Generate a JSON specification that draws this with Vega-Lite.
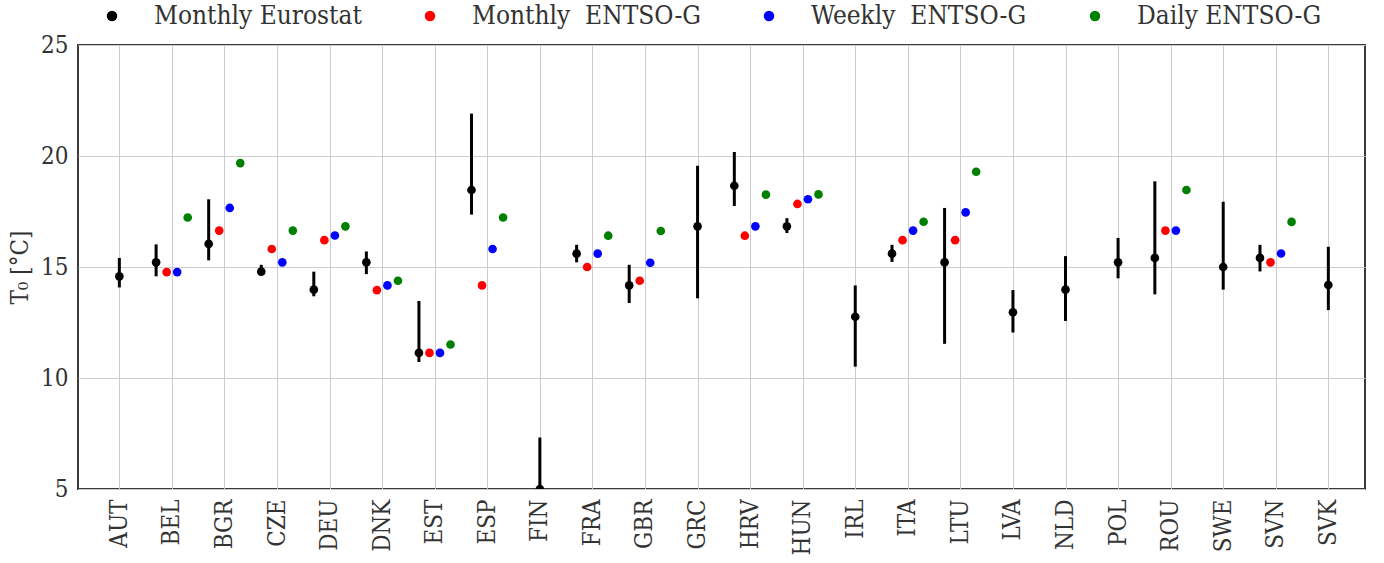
{
  "$schema": "https://vega.github.io/schema/vega-lite/v6.json",
  "width": 1287,
  "height": 444,
  "autosize": {"type": "none"},
  "padding": {"left": 78, "top": 45, "right": 19, "bottom": 74},
  "background": "white",
  "config": {
    "font": "DejaVu Serif Condensed, DejaVu Serif",
    "view": {"stroke": "#3a3a3a", "strokeWidth": 2},
    "axis": {"labelFont": "DejaVu Serif Condensed, DejaVu Serif", "titleFont": "DejaVu Serif Condensed, DejaVu Serif", "labelColor": "#333333", "titleColor": "#333333", "gridColor": "#cccccc", "gridWidth": 1, "domain": false, "ticks": false},
    "legend": {"labelFont": "DejaVu Serif Condensed, DejaVu Serif", "labelColor": "#333333"}
  },
  "data": {"values": [
    {"c": "AUT", "s": "Monthly Eurostat", "v": 14.58, "lo": 14.08, "hi": 15.41},
    {"c": "BEL", "s": "Monthly Eurostat", "v": 15.21, "lo": 14.58, "hi": 16.02},
    {"c": "BGR", "s": "Monthly Eurostat", "v": 16.04, "lo": 15.30, "hi": 18.05},
    {"c": "CZE", "s": "Monthly Eurostat", "v": 14.79, "lo": 14.65, "hi": 15.10},
    {"c": "DEU", "s": "Monthly Eurostat", "v": 13.98, "lo": 13.68, "hi": 14.79},
    {"c": "DNK", "s": "Monthly Eurostat", "v": 15.21, "lo": 14.68, "hi": 15.70},
    {"c": "EST", "s": "Monthly Eurostat", "v": 11.13, "lo": 10.72, "hi": 13.47},
    {"c": "ESP", "s": "Monthly Eurostat", "v": 18.47, "lo": 17.36, "hi": 21.91},
    {"c": "FIN", "s": "Monthly Eurostat", "v": 5.0, "lo": 2.7, "hi": 7.32},
    {"c": "FRA", "s": "Monthly Eurostat", "v": 15.60, "lo": 15.21, "hi": 16.0},
    {"c": "GBR", "s": "Monthly Eurostat", "v": 14.17, "lo": 13.38, "hi": 15.10},
    {"c": "GRC", "s": "Monthly Eurostat", "v": 16.83, "lo": 13.59, "hi": 19.56},
    {"c": "HRV", "s": "Monthly Eurostat", "v": 18.66, "lo": 17.75, "hi": 20.18},
    {"c": "HUN", "s": "Monthly Eurostat", "v": 16.83, "lo": 16.53, "hi": 17.2},
    {"c": "IRL", "s": "Monthly Eurostat", "v": 12.76, "lo": 10.51, "hi": 14.17},
    {"c": "ITA", "s": "Monthly Eurostat", "v": 15.60, "lo": 15.23, "hi": 16.0},
    {"c": "LTU", "s": "Monthly Eurostat", "v": 15.21, "lo": 11.54, "hi": 17.66},
    {"c": "LVA", "s": "Monthly Eurostat", "v": 12.96, "lo": 12.05, "hi": 13.96},
    {"c": "NLD", "s": "Monthly Eurostat", "v": 13.98, "lo": 12.57, "hi": 15.49},
    {"c": "POL", "s": "Monthly Eurostat", "v": 15.21, "lo": 14.49, "hi": 16.31},
    {"c": "ROU", "s": "Monthly Eurostat", "v": 15.41, "lo": 13.77, "hi": 18.86},
    {"c": "SWE", "s": "Monthly Eurostat", "v": 15.0, "lo": 13.98, "hi": 17.94},
    {"c": "SVN", "s": "Monthly Eurostat", "v": 15.41, "lo": 14.8, "hi": 16.0},
    {"c": "SVK", "s": "Monthly Eurostat", "v": 14.19, "lo": 13.06, "hi": 15.91},
    {"c": "BEL", "s": "Monthly  ENTSO-G", "v": 14.77},
    {"c": "BGR", "s": "Monthly  ENTSO-G", "v": 16.64},
    {"c": "CZE", "s": "Monthly  ENTSO-G", "v": 15.81},
    {"c": "DEU", "s": "Monthly  ENTSO-G", "v": 16.21},
    {"c": "DNK", "s": "Monthly  ENTSO-G", "v": 13.96},
    {"c": "EST", "s": "Monthly  ENTSO-G", "v": 11.13},
    {"c": "ESP", "s": "Monthly  ENTSO-G", "v": 14.17},
    {"c": "FRA", "s": "Monthly  ENTSO-G", "v": 15.0},
    {"c": "GBR", "s": "Monthly  ENTSO-G", "v": 14.38},
    {"c": "HRV", "s": "Monthly  ENTSO-G", "v": 16.41},
    {"c": "HUN", "s": "Monthly  ENTSO-G", "v": 17.84},
    {"c": "ITA", "s": "Monthly  ENTSO-G", "v": 16.21},
    {"c": "LTU", "s": "Monthly  ENTSO-G", "v": 16.21},
    {"c": "ROU", "s": "Monthly  ENTSO-G", "v": 16.64},
    {"c": "SVN", "s": "Monthly  ENTSO-G", "v": 15.21},
    {"c": "BEL", "s": "Weekly  ENTSO-G", "v": 14.77},
    {"c": "BGR", "s": "Weekly  ENTSO-G", "v": 17.66},
    {"c": "CZE", "s": "Weekly  ENTSO-G", "v": 15.21},
    {"c": "DEU", "s": "Weekly  ENTSO-G", "v": 16.42},
    {"c": "DNK", "s": "Weekly  ENTSO-G", "v": 14.17},
    {"c": "EST", "s": "Weekly  ENTSO-G", "v": 11.13},
    {"c": "ESP", "s": "Weekly  ENTSO-G", "v": 15.81},
    {"c": "FRA", "s": "Weekly  ENTSO-G", "v": 15.60},
    {"c": "GBR", "s": "Weekly  ENTSO-G", "v": 15.19},
    {"c": "HRV", "s": "Weekly  ENTSO-G", "v": 16.83},
    {"c": "HUN", "s": "Weekly  ENTSO-G", "v": 18.05},
    {"c": "ITA", "s": "Weekly  ENTSO-G", "v": 16.64},
    {"c": "LTU", "s": "Weekly  ENTSO-G", "v": 17.46},
    {"c": "ROU", "s": "Weekly  ENTSO-G", "v": 16.64},
    {"c": "SVN", "s": "Weekly  ENTSO-G", "v": 15.61},
    {"c": "BEL", "s": "Daily ENTSO-G", "v": 17.23},
    {"c": "BGR", "s": "Daily ENTSO-G", "v": 19.68},
    {"c": "CZE", "s": "Daily ENTSO-G", "v": 16.64},
    {"c": "DEU", "s": "Daily ENTSO-G", "v": 16.83},
    {"c": "DNK", "s": "Daily ENTSO-G", "v": 14.38},
    {"c": "EST", "s": "Daily ENTSO-G", "v": 11.51},
    {"c": "ESP", "s": "Daily ENTSO-G", "v": 17.23},
    {"c": "FRA", "s": "Daily ENTSO-G", "v": 16.41},
    {"c": "GBR", "s": "Daily ENTSO-G", "v": 16.62},
    {"c": "HRV", "s": "Daily ENTSO-G", "v": 18.26},
    {"c": "HUN", "s": "Daily ENTSO-G", "v": 18.27},
    {"c": "ITA", "s": "Daily ENTSO-G", "v": 17.04},
    {"c": "LTU", "s": "Daily ENTSO-G", "v": 19.29},
    {"c": "ROU", "s": "Daily ENTSO-G", "v": 18.47},
    {"c": "SVN", "s": "Daily ENTSO-G", "v": 17.03}
  ]},
  "transform": [
    {"joinaggregate": [{"op": "count", "as": "n"}], "groupby": ["c"]},
    {"calculate": "datum.n == 1 ? 'center' : datum.s", "as": "slot"}
  ],
  "encoding": {
    "x": {
      "field": "c", "type": "nominal", "sort": null,
      "scale": {"type": "point", "padding": 0.742, "align": 0.53},
      "axis": {"title": null, "labelAngle": -90, "labelFontSize": 24, "labelPadding": 10, "grid": true}
    },
    "xOffset": {
      "field": "slot", "type": "nominal",
      "scale": {"type": "point", "domain": ["Monthly Eurostat", "g1", "Monthly  ENTSO-G", "center", "Weekly  ENTSO-G", "g2", "Daily ENTSO-G"], "range": [-15.8, 15.8], "padding": 0}
    }
  },
  "layer": [
    {
      "transform": [{"filter": "isValid(datum.lo)"}],
      "mark": {"type": "rule", "color": "black", "strokeWidth": 3, "clip": true},
      "encoding": {
        "y": {"field": "lo", "type": "quantitative"},
        "y2": {"field": "hi"}
      }
    },
    {
      "mark": {"type": "point", "filled": true, "shape": "circle", "size": 75, "opacity": 1, "clip": true},
      "encoding": {
        "y": {
          "field": "v", "type": "quantitative",
          "scale": {"domain": [5, 25], "nice": false, "zero": false},
          "axis": {"values": [5, 10, 15, 20, 25], "labelFontSize": 24, "labelPadding": 10, "title": "T₀ [°C]", "titleFontSize": 24, "titleFontWeight": "normal", "titlePadding": 8, "grid": true}
        },
        "color": {
          "field": "s", "type": "nominal",
          "scale": {"domain": ["Monthly Eurostat", "Monthly  ENTSO-G", "Weekly  ENTSO-G", "Daily ENTSO-G"], "range": ["#000000", "#ff0000", "#0000ff", "#008000"]},
          "legend": {"title": null, "orient": "none", "legendX": 21, "legendY": -42, "direction": "horizontal", "gridAlign": "each", "labelExpr": "replace(datum.label, '  ', ' \u00a0')", "labelFontSize": 26, "labelLimit": 500, "symbolSize": 110, "symbolType": "circle", "symbolStrokeWidth": 0, "labelOffset": 29, "columnPadding": 55, "symbolOpacity": 1}
        }
      }
    }
  ]
}
